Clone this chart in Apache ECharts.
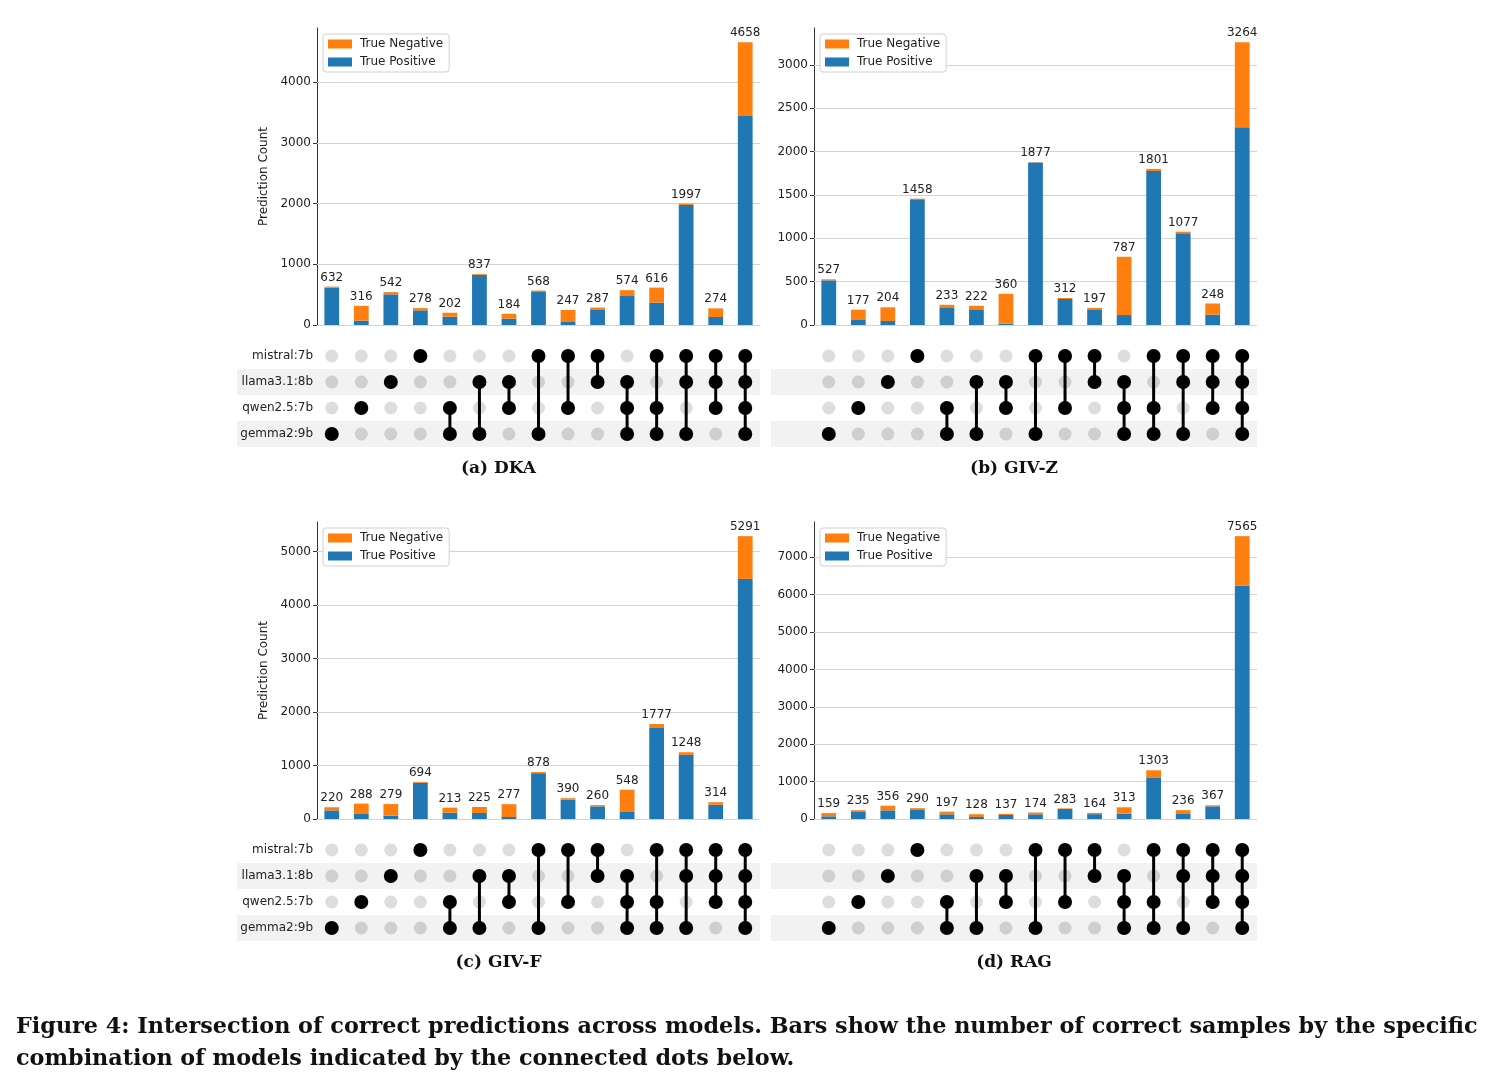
<!DOCTYPE html>
<html>
<head>
<meta charset="utf-8">
<script src="https://cdn.jsdelivr.net/npm/echarts@6/dist/echarts.min.js"></script>
<style>
html,body{margin:0;padding:0;background:#fff;}
#c{width:1494px;height:1090px;}
</style>
</head>
<body>
<div id="c"></div>
<script>
// ---- data ----
const models = ['mistral:7b', 'llama3.1:8b', 'qwen2.5:7b', 'gemma2:9b'];
const mistralIn = [0,0,0,1,0,0,0,1,1,1,0,1,1,1,1];
const llamaIn   = [0,0,1,0,0,1,1,0,0,1,1,0,1,1,1];
const qwenIn    = [0,1,0,0,1,0,1,0,1,0,1,1,0,1,1];
const gemmaIn   = [1,0,0,0,1,1,0,1,0,0,1,1,1,0,1];

const dkaTotal  = [632,316,542,278,202,837,184,568,247,287,574,616,1997,274,4658];
const dkaTP     = [614,71,505,241,137,823,104,554,49,258,477,368,1975,132,3440];
const givzTotal = [527,177,204,1458,233,222,360,1877,312,197,787,1801,1077,248,3264];
const givzTP    = [515,65,46,1450,204,181,15,1874,300,173,115,1777,1058,119,2281];
const givfTotal = [220,288,279,694,213,225,277,878,390,260,548,1777,1248,314,5291];
const givfTP    = [161,93,62,677,118,112,37,857,360,236,143,1702,1199,267,4491];
const ragTotal  = [159,235,356,290,197,128,137,174,283,164,313,1303,236,367,7565];
const ragTP     = [71,204,231,258,125,53,107,125,267,130,142,1112,133,338,6246];

const dkaTicks  = [0,1000,2000,3000,4000];
const givzTicks = [0,500,1000,1500,2000,2500,3000];
const givfTicks = [0,1000,2000,3000,4000,5000];
const ragTicks  = [0,1000,2000,3000,4000,5000,6000,7000];

const panelTitles = ['(a) DKA', '(b) GIV-Z', '(c) GIV-F', '(d) RAG'];
const seriesNames = ['True Negative', 'True Positive'];
const yAxisName = 'Prediction Count';
const figCaption1 = 'Figure 4: Intersection of correct predictions across models. Bars show the number of correct samples by the specific';
const figCaption2 = 'combination of models indicated by the connected dots below.';

// ---- layout / style ----
const BLUE = '#1f77b4', ORANGE = '#ff7f0e';
const SANS = 'DejaVu Sans';
const SERIF = 'DejaVu Serif';
const BAR_W = 443, BAR_H = 297, ROW_H = 26;
const panels = [
  {total: dkaTotal,  tp: dkaTP,  ticks: dkaTicks,  bx: 317, by: 28,  mx: 237, my: 343, names: true,  cap: 468},
  {total: givzTotal, tp: givzTP, ticks: givzTicks, bx: 814, by: 28,  mx: 771, my: 343, names: false, cap: 468},
  {total: givfTotal, tp: givfTP, ticks: givfTicks, bx: 317, by: 522, mx: 237, my: 837, names: true,  cap: 962},
  {total: ragTotal,  tp: ragTP,  ticks: ragTicks,  bx: 814, by: 522, mx: 771, my: 837, names: false, cap: 962}
];
const membership = [mistralIn, llamaIn, qwenIn, gemmaIn];
const nCols = mistralIn.length;

const grid = [], xAxis = [], yAxis = [], series = [], legend = [], graphic = [];

panels.forEach((p, k) => {
  const gb = 2 * k, gm = 2 * k + 1;
  const band = BAR_W / nCols;
  const mW = p.bx + BAR_W - p.mx;
  const m0 = (p.mx - p.bx - 0.5 * band) / band;
  const m1 = m0 + mW / band;
  const maxV = Math.max(...p.total) * 1.05;

  grid.push({left: p.bx, top: p.by, width: BAR_W, height: BAR_H});
  grid.push({left: p.mx, top: p.my, width: mW, height: ROW_H * models.length});

  xAxis.push({type: 'category', gridIndex: gb, data: p.total.map((_, i) => String(i)),
    axisLine: {show: false}, axisTick: {show: false}, axisLabel: {show: false}, splitLine: {show: false}});
  xAxis.push({type: 'value', gridIndex: gm, min: m0, max: m1, show: false, splitLine: {show: false}});

  yAxis.push({type: 'value', gridIndex: gb, min: 0, max: maxV,
    name: p.names ? yAxisName : '', nameLocation: 'middle', nameGap: 47,
    nameTextStyle: {fontFamily: SANS, fontSize: 12, color: '#222'},
    axisLine: {show: true, lineStyle: {color: '#333', width: 1}},
    axisTick: {show: true, length: 4, customValues: p.ticks, lineStyle: {color: '#333'}},
    axisLabel: {customValues: p.ticks, margin: 6, fontFamily: SANS, fontSize: 12, color: '#222',
      formatter: (v) => String(Math.round(v))},
    splitLine: {show: false}
  });
  yAxis.push({type: 'category', gridIndex: gm, data: models, inverse: true,
    axisLine: {show: false}, axisTick: {show: false},
    axisLabel: {show: p.names, margin: -76, align: 'right', fontFamily: SANS, fontSize: 12, color: '#222'},
    splitLine: {show: false},
    splitArea: {show: true, areaStyle: {color: ['rgba(255,255,255,0)', '#f2f2f2']}}
  });

  const tn = p.total.map((t, i) => t - p.tp[i]);
  series.push({
    type: 'bar', name: 'True Positive', xAxisIndex: gb, yAxisIndex: gb, stack: 's' + k,
    barWidth: '50%', itemStyle: {color: BLUE}, data: p.tp, z: 3,
    markLine: {silent: true, symbol: 'none', z: 1, animation: false,
      label: {show: false}, lineStyle: {color: '#d3d3d3', width: 1.2, type: 'solid'},
      data: p.ticks.map(v => ({yAxis: v}))}
  });
  series.push({
    type: 'bar', name: 'True Negative', xAxisIndex: gb, yAxisIndex: gb, stack: 's' + k,
    barWidth: '50%', itemStyle: {color: ORANGE}, data: tn, z: 3,
    label: {show: true, position: 'top', distance: 3, fontFamily: SANS, fontSize: 12, color: '#222',
      formatter: (d) => String(p.total[d.dataIndex])}
  });

  // matrix dots
  const inactive = [], active = [], links = [];
  for (let i = 0; i < nCols; i++) {
    const rows = [];
    membership.forEach((m, r) => {
      if (m[i]) { active.push([i, r]); rows.push(r); }
      else inactive.push({value: [i, r], itemStyle: {color: r % 2 ? '#c6c6c6' : '#d4d4d4'}});
    });
    if (rows.length > 1) links.push([i, Math.min(...rows), Math.max(...rows)]);
  }
  series.push({type: 'scatter', xAxisIndex: gm, yAxisIndex: gm, symbolSize: 13, data: inactive,
    itemStyle: {color: '#d4d4d4'}, silent: true, z: 2});
  series.push({type: 'custom', xAxisIndex: gm, yAxisIndex: gm, data: links, silent: true, z: 3,
    encode: {x: 0, y: [1, 2]},
    renderItem: (params, api) => {
      const a = api.coord([api.value(0), api.value(1)]);
      const b = api.coord([api.value(0), api.value(2)]);
      return {type: 'line', shape: {x1: a[0], y1: a[1], x2: b[0], y2: b[1]},
        style: {stroke: '#000', lineWidth: 3}};
    }});
  series.push({type: 'scatter', xAxisIndex: gm, yAxisIndex: gm, symbolSize: 14, data: active,
    itemStyle: {color: '#000', opacity: 1}, silent: true, z: 4});

  legend.push({
    data: seriesNames, left: p.bx + 6, top: p.by + 6, orient: 'vertical',
    itemWidth: 24, itemHeight: 9, itemGap: 6, padding: [4, 6, 4, 5],
    backgroundColor: '#fff', borderColor: '#d0d0d0', borderWidth: 1, borderRadius: 3,
    icon: 'rect', selectedMode: false,
    textStyle: {fontFamily: SANS, fontSize: 12, color: '#222', lineHeight: 12, padding: [0, 0, 0, 3]}
  });

  graphic.push({type: 'text',
    x: p.mx + mW / 2, y: p.cap + 1,
    style: {text: panelTitles[k], font: 'bold 17px "' + SERIF + '"', fill: '#111',
      textAlign: 'center', textVerticalAlign: 'middle'}});
});

graphic.push({type: 'text', x: 16, y: 1027,
  style: {text: figCaption1, font: 'bold 22.3px "' + SERIF + '"', fill: '#111', textVerticalAlign: 'middle'}});
graphic.push({type: 'text', x: 16, y: 1059,
  style: {text: figCaption2, font: 'bold 22.3px "' + SERIF + '"', fill: '#111', textVerticalAlign: 'middle'}});

const chart = echarts.init(document.getElementById('c'), null, {renderer: 'canvas'});
chart.setOption({
  animation: false,
  backgroundColor: '#fff',
  grid, xAxis, yAxis, series, legend, graphic
});
</script>
</body>
</html>
